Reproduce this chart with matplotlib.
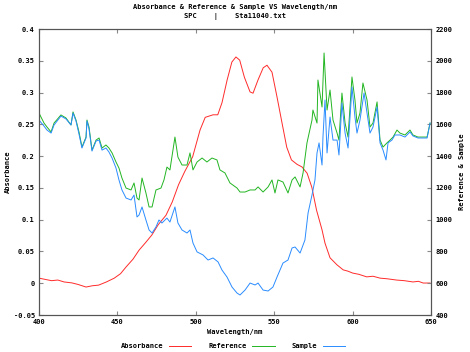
import matplotlib
matplotlib.use("Agg")
import matplotlib.pyplot as plt

# Absorbance (left axis)
abs_wl = [400.0, 404, 408, 412, 416, 421.0, 425, 430.0, 434, 438, 443.0, 448, 452, 455.5, 460,
          463.8, 468, 472.0, 476, 481.0, 485, 489.0, 493, 498.0, 502.7, 506.0, 511.0, 514.0,
          516.7, 520.0, 523.0, 525.6, 528.0, 531.0, 534.6, 536.5, 539.7, 543.0, 545.4, 548.6,
          551.8, 555.0, 558.0, 561.0, 564.6, 567.7, 571.0, 574.0, 577.0, 580.5, 582.4, 585.6,
          590.0, 594.0, 597, 600.0, 604, 609.0, 613, 617.5, 622, 628.0, 633, 638.5, 642, 645.0, 649.4]
absorbance = [0.008, 0.006, 0.004, 0.005, 0.002, 0.0005, -0.002, -0.006, -0.004, -0.003, 0.002,
              0.008, 0.015, 0.0255, 0.038, 0.052, 0.064, 0.076, 0.092, 0.107, 0.128, 0.155, 0.176,
              0.199, 0.241, 0.261, 0.265, 0.265, 0.284, 0.320, 0.348, 0.356, 0.351, 0.324, 0.301,
              0.299, 0.320, 0.339, 0.343, 0.332, 0.293, 0.252, 0.214, 0.194, 0.187, 0.183, 0.173,
              0.151, 0.115, 0.084, 0.063, 0.040, 0.029, 0.021, 0.019, 0.016, 0.014, 0.010, 0.011,
              0.008, 0.007, 0.005, 0.004, 0.002, 0.003, 0.0003, 0.0003]

# Reference (right axis)
ref_wl = [400.0, 403.2, 405.1, 407.7, 409.6, 414.0, 417.2, 420.4, 421.7, 423.6, 425.5, 427.4,
          430.0, 430.6, 431.9, 433.8, 436.4, 438.3, 440.2, 442.7, 444.6, 446.6, 449.1, 451.0,
          452.9, 455.5, 458.7, 460.6, 462.5, 463.8, 465.7, 468.2, 470.2, 472.1, 474.6, 477.8,
          479.7, 481.6, 483.5, 486.7, 488.6, 491.2, 494.4, 496.3, 498.2, 500.8, 504.0, 507.1,
          510.3, 513.5, 515.4, 518.6, 521.8, 526.3, 528.2, 531.4, 534.6, 537.8, 539.7, 542.9,
          546.1, 548.6, 550.5, 552.4, 555.6, 558.8, 561.4, 563.3, 566.5, 568.4, 570.9, 574.1,
          574.7, 577.3, 577.9, 580.5, 581.8, 583.7, 585.6, 587.5, 590.1, 591.3, 593.2, 595.2,
          597.1, 599.6, 601.5, 602.8, 604.7, 606.6, 609.2, 611.1, 613.0, 615.6, 617.5, 619.4,
          621.9, 623.9, 625.8, 628.3, 630.2, 633.4, 636.6, 638.5, 641.7, 644.9, 647.5, 649.4]
reference = [1671, 1608, 1583, 1552, 1608, 1659, 1640, 1596, 1678, 1627, 1552, 1457, 1520, 1627,
             1583, 1438, 1501, 1514, 1451, 1470, 1451, 1420, 1363, 1325, 1262, 1199, 1187, 1231,
             1136, 1124, 1262, 1168, 1080, 1080, 1187, 1199, 1250, 1331, 1313, 1520, 1394, 1344,
             1344, 1420, 1313, 1363, 1388, 1363, 1388, 1376, 1313, 1294, 1231, 1199, 1174, 1174,
             1187, 1187, 1206, 1174, 1206, 1250, 1168, 1250, 1237, 1168, 1250, 1269, 1206, 1294,
             1483, 1627, 1690, 1608, 1879, 1709, 2049, 1690, 1816, 1627, 1545, 1501, 1797, 1608,
             1520, 1898, 1753, 1608, 1671, 1860, 1753, 1583, 1608, 1741, 1501, 1457, 1483, 1501,
             1520, 1564, 1545, 1533, 1564, 1533, 1520, 1520, 1520, 1608]

# Sample (right axis)
smp_wl = [400.0, 403.2, 405.1, 407.7, 409.6, 414.0, 417.2, 420.4, 421.7, 423.6, 425.5, 427.4,
          430.0, 430.6, 431.9, 433.8, 436.4, 438.3, 440.2, 442.7, 444.6, 446.6, 449.1, 451.0,
          452.9, 455.5, 458.7, 460.6, 462.5, 463.8, 465.7, 468.2, 470.2, 472.1, 474.6, 476.5,
          478.4, 481.6, 483.5, 486.7, 488.6, 491.2, 494.4, 496.3, 498.2, 500.8, 504.6, 507.8,
          511.0, 514.2, 516.7, 519.9, 523.1, 526.3, 528.2, 531.4, 534.6, 537.8, 539.7, 542.9,
          546.1, 549.2, 551.8, 555.6, 558.8, 561.4, 563.3, 566.5, 569.6, 571.6, 574.1, 576.0,
          577.3, 578.6, 580.5, 581.1, 582.4, 583.7, 585.6, 587.5, 590.1, 591.3, 593.2, 595.2,
          597.1, 599.6, 601.5, 602.8, 604.7, 607.3, 609.2, 611.1, 613.0, 615.6, 617.5, 619.4,
          621.3, 622.6, 625.1, 627.0, 630.2, 633.4, 636.6, 638.5, 641.7, 644.9, 647.5, 649.4]
sample = [1627, 1589, 1564, 1545, 1596, 1652, 1634, 1596, 1671, 1621, 1539, 1451, 1514, 1621,
          1571, 1432, 1495, 1501, 1438, 1451, 1426, 1388, 1325, 1250, 1187, 1136, 1124, 1155,
          1017, 1029, 1080, 998, 935, 916, 954, 998, 979, 1010, 985, 1080, 979, 935, 916, 935,
          853, 797, 778, 746, 759, 734, 683, 639, 576, 538, 526, 557, 601, 589, 601, 557, 551,
          576, 639, 727, 746, 822, 828, 790, 872, 1042, 1155, 1250, 1420, 1483, 1344, 1520, 1753,
          1420, 1646, 1501, 1501, 1407, 1734, 1545, 1451, 1835, 1646, 1545, 1627, 1797, 1671,
          1545, 1583, 1709, 1483, 1438, 1376, 1483, 1501, 1533, 1533, 1520, 1552, 1527, 1514,
          1514, 1514, 1608]

x_ticks = [400, 450, 500, 550, 600, 650]
left_ticks = [-0.05, 0, 0.05, 0.1, 0.15, 0.2, 0.25, 0.3, 0.35, 0.4]
left_labels = ["-0.05", "0", "0.05", "0.1", "0.15", "0.2", "0.25", "0.3", "0.35", "0.4"]
right_ticks = [400, 600, 800, 1000, 1200, 1400, 1600, 1800, 2000, 2200]

plt.rcParams['font.family'] = ['DejaVu Sans Mono']
plt.rcParams['font.weight'] = 'bold'
fs = 5

fig = plt.figure(figsize=(4.7, 3.52), dpi=100)
ax = fig.add_axes([39/470, 1-315/352, 392/470, 286/352])
ax2 = ax.twinx()

l1, = ax.plot(abs_wl, absorbance, color='#ff2a2a', lw=0.7)
l2, = ax2.plot(ref_wl, reference, color='#22b522', lw=0.7)
l3, = ax2.plot(smp_wl, sample, color='#2a8cff', lw=0.7)

ax.set_xlim(400, 650)
ax.set_ylim(-0.05, 0.4)
ax2.set_ylim(400, 2200)
ax.set_xticks(x_ticks)
ax.set_xticklabels([str(t) for t in x_ticks], fontsize=fs, fontweight='bold')
ax.set_yticks(left_ticks)
ax.set_yticklabels(left_labels, fontsize=fs, fontweight='bold')
ax2.set_yticks(right_ticks)
ax2.set_yticklabels([str(t) for t in right_ticks], fontsize=fs, fontweight='bold')

for a in (ax, ax2):
    for s in a.spines.values():
        s.set_color('#555555')
        s.set_linewidth(0.8)
    a.tick_params(direction='in', length=3, width=0.8, color='#888888', pad=3)
ax.tick_params(top=True, labeltop=False)

ax.set_xlabel('Wavelength/nm', fontsize=fs, fontweight='bold', labelpad=3)
ax.set_ylabel('Absorbance', fontsize=fs, fontweight='bold', labelpad=2)
ax2.set_ylabel('Reference & Sample', fontsize=fs, fontweight='bold', labelpad=5)

fig.text(0.5, 1-7/352, 'Absorbance & Reference & Sample VS Wavelength/nm',
         ha='center', va='center', fontsize=fs, fontweight='bold')
fig.text(0.5, 1-16/352, 'SPC    |    Sta11040.txt',
         ha='center', va='center', fontsize=fs, fontweight='bold')

leg = fig.legend([l1, l2, l3], ['Absorbance', 'Reference', 'Sample'], ncol=3,
                 loc='center', bbox_to_anchor=(233/470, 1-346/352), frameon=False,
                 markerfirst=False, handlelength=3.2, handletextpad=0.8,
                 columnspacing=2.5, prop={'size': fs, 'weight': 'bold'})

fig.savefig('out.png', dpi=100)
